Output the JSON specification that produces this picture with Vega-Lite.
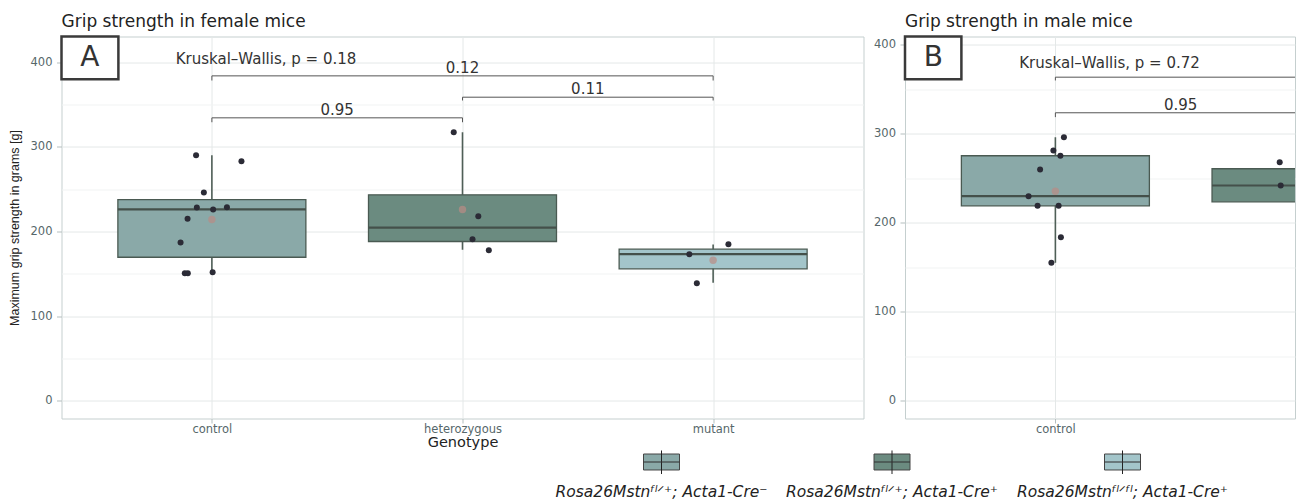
{
  "$schema": "https://vega.github.io/schema/vega-lite/v6.json",
  "padding": {"left": 7.5, "top": 12.5, "right": 0, "bottom": 0},
  "background": "white",
  "config": {
    "font": "DejaVu Sans",
    "view": {"stroke": "#c5cfcf", "strokeWidth": 1},
    "scale": {"continuousPadding": 0},
    "title": {"font": "DejaVu Sans", "fontSize": 17, "fontWeight": "normal", "color": "#222222", "anchor": "start", "frame": "group", "offset": 4},
    "axis": {"labelFont": "DejaVu Sans", "labelFontSize": 11.5, "labelColor": "#56676a", "titleFont": "DejaVu Sans", "titleFontWeight": "normal", "titleColor": "#222222", "tickColor": "#b5bfbf", "domain": false, "labelFlush": false, "labelOverlap": false, "gridColor": "#e4e8e8"}
  },
  "datasets": {
    "boxA": [
      {"genotype": "control", "pos": 1, "lo": 152.0, "q1": 169.6, "med": 226.2, "q3": 237.8, "hi": 290.1, "mean": 214.2},
      {"genotype": "heterozygous", "pos": 2, "lo": 178.4, "q1": 188.2, "med": 204.7, "q3": 243.4, "hi": 317.3, "mean": 226.0},
      {"genotype": "mutant", "pos": 3, "lo": 139.4, "q1": 155.9, "med": 173.2, "q3": 179.1, "hi": 184.8, "mean": 166.0}
    ],
    "boxB": [
      {"genotype": "control", "pos": 1, "lo": 155.1, "q1": 219.1, "med": 229.9, "q3": 275.3, "hi": 296.2, "mean": 235.5},
      {"genotype": "heterozygous", "pos": 2, "lo": 205.0, "q1": 223.6, "med": 241.9, "q3": 260.7, "hi": 268.1, "mean": null}
    ],
    "ptsA": [
      {"genotype": "control", "xpos": 0.937, "strength": 290.1},
      {"genotype": "control", "xpos": 1.118, "strength": 283.0},
      {"genotype": "control", "xpos": 0.968, "strength": 246.1},
      {"genotype": "control", "xpos": 0.940, "strength": 228.4},
      {"genotype": "control", "xpos": 1.005, "strength": 226.0},
      {"genotype": "control", "xpos": 1.060, "strength": 228.7},
      {"genotype": "control", "xpos": 0.903, "strength": 215.0},
      {"genotype": "control", "xpos": 0.875, "strength": 187.0},
      {"genotype": "control", "xpos": 0.892, "strength": 150.6},
      {"genotype": "control", "xpos": 0.904, "strength": 150.8},
      {"genotype": "control", "xpos": 1.003, "strength": 151.9},
      {"genotype": "heterozygous", "xpos": 1.965, "strength": 317.3},
      {"genotype": "heterozygous", "xpos": 2.063, "strength": 218.1},
      {"genotype": "heterozygous", "xpos": 2.040, "strength": 190.9},
      {"genotype": "heterozygous", "xpos": 2.105, "strength": 177.9},
      {"genotype": "mutant", "xpos": 3.061, "strength": 185.0},
      {"genotype": "mutant", "xpos": 2.905, "strength": 173.2},
      {"genotype": "mutant", "xpos": 2.935, "strength": 138.9}
    ],
    "ptsB": [
      {"genotype": "control", "xpos": 1.034, "strength": 296.2},
      {"genotype": "control", "xpos": 0.992, "strength": 281.2},
      {"genotype": "control", "xpos": 1.020, "strength": 275.3},
      {"genotype": "control", "xpos": 0.939, "strength": 259.9},
      {"genotype": "control", "xpos": 0.893, "strength": 229.9},
      {"genotype": "control", "xpos": 0.929, "strength": 219.1},
      {"genotype": "control", "xpos": 1.013, "strength": 219.1},
      {"genotype": "control", "xpos": 1.022, "strength": 183.8},
      {"genotype": "control", "xpos": 0.984, "strength": 155.1},
      {"genotype": "heterozygous", "xpos": 1.895, "strength": 268.1},
      {"genotype": "heterozygous", "xpos": 1.899, "strength": 241.9}
    ],
    "brA": [
      {"x1": 1, "x2": 3, "y": 383.9, "tip": 378.4, "xm": 2, "label": "0.12"},
      {"x1": 2, "x2": 3, "y": 358.7, "tip": 354.8, "xm": 2.5, "label": "0.11"},
      {"x1": 1, "x2": 2, "y": 334.3, "tip": 329.1, "xm": 1.5, "label": "0.95"}
    ],
    "brB": [
      {"x1": 1, "x2": 3, "y": 363.6, "tip": 359.9, "xm": 2, "label": ""},
      {"x1": 1, "x2": 2, "y": 323.6, "tip": 318.7, "xm": 1.5, "label": "0.95"}
    ],
    "tagA": [
      {"x": 0.4, "x2": 0.627, "y": 379.9, "y2": 430.4, "tx": 0.513, "ty": 405.2, "tag": "A", "kx": 1.216, "ky": 403.5, "kw": "Kruskal–Wallis, p = 0.18"}
    ],
    "tagB": [
      {"x": 0.4, "x2": 0.625, "y": 361.3, "y2": 409.3, "tx": 0.513, "ty": 385.4, "tag": "B", "kx": 1.216, "ky": 379.3, "kw": "Kruskal–Wallis, p = 0.72"}
    ],
    "legend": [
      {"genotype": "control", "label": "Rosa26Mstnᶠˡᐟ⁺; Acta1-Cre⁻"},
      {"genotype": "heterozygous", "label": "Rosa26Mstnᶠˡᐟ⁺; Acta1-Cre⁺"},
      {"genotype": "mutant", "label": "Rosa26Mstnᶠˡᐟᶠˡ; Acta1-Cre⁺"}
    ]
  },
  "spacing": 0,
  "vconcat": [
    {
      "spacing": 8.5,
      "hconcat": [
        {
          "width": 802,
          "height": 382,
          "title": {"text": "Grip strength in female mice"},
          "layer": [
            {
              "data": {"name": "boxA"},
              "mark": {"type": "rule", "color": "#4f5f57", "strokeWidth": 1.6, "clip": true},
              "encoding": {
                "x": {"field": "pos", "type": "quantitative", "title": "Genotype", "scale": {"domain": [0.4, 3.6], "nice": false, "zero": false, "padding": 0},
                  "axis": {"values": [1, 2, 3], "labelExpr": "datum.value == 1 ? 'control' : datum.value == 2 ? 'heterozygous' : datum.value == 3 ? 'mutant' : ''", "grid": true, "tickSize": 4.5, "labelPadding": 0.5, "titlePadding": 0, "titleFontSize": 14.5}},
                "y": {"field": "lo", "type": "quantitative", "title": "Maximum grip strength in grams [g]", "scale": {"domain": [-20.9, 430.4], "nice": false, "zero": false, "padding": 0},
                  "axis": {"values": [0, 50, 100, 150, 200, 250, 300, 350, 400], "labelExpr": "datum.value % 100 == 0 ? datum.label : ''", "grid": true,
                    "gridColor": {"condition": {"test": "datum.value % 100 != 0", "value": "#f1f3f3"}, "value": "#e4e8e8"},
                    "tickColor": {"condition": {"test": "datum.value % 100 != 0", "value": "transparent"}, "value": "#b5bfbf"},
                    "tickSize": 5, "labelPadding": 4.5, "titlePadding": 9, "titleFont": "Liberation Sans", "titleFontSize": 12.5}},
                "y2": {"field": "hi"}
              }
            },
            {
              "data": {"name": "boxA"},
              "mark": {"type": "bar", "size": 188, "stroke": "#4a5a52", "strokeWidth": 1.3, "clip": true},
              "encoding": {
                "x": {"field": "pos", "type": "quantitative", "title": "Genotype", "scale": {"domain": [0.4, 3.6], "nice": false, "zero": false, "padding": 0}},
                "y": {"field": "q1", "type": "quantitative", "title": "Maximum grip strength in grams [g]", "scale": {"domain": [-20.9, 430.4], "nice": false, "zero": false, "padding": 0}},
                "y2": {"field": "q3"},
                "fill": {"field": "genotype", "type": "nominal", "scale": {"domain": ["control", "heterozygous", "mutant"], "range": ["#8aa9a8", "#6b8b80", "#a3c5ca"]}, "legend": null}
              }
            },
            {
              "data": {"name": "boxA"},
              "mark": {"type": "tick", "orient": "horizontal", "size": 188, "thickness": 2.2, "color": "#44504a", "opacity": 1, "clip": true},
              "encoding": {
                "x": {"field": "pos", "type": "quantitative", "title": "Genotype", "scale": {"domain": [0.4, 3.6], "nice": false, "zero": false, "padding": 0}},
                "y": {"field": "med", "type": "quantitative", "title": "Maximum grip strength in grams [g]", "scale": {"domain": [-20.9, 430.4], "nice": false, "zero": false, "padding": 0}}
              }
            },
            {
              "data": {"name": "ptsA"},
              "mark": {"type": "circle", "size": 36, "color": "#2b2b36", "opacity": 1, "clip": true},
              "encoding": {
                "x": {"field": "xpos", "type": "quantitative", "title": "Genotype", "scale": {"domain": [0.4, 3.6], "nice": false, "zero": false, "padding": 0}},
                "y": {"field": "strength", "type": "quantitative", "title": "Maximum grip strength in grams [g]", "scale": {"domain": [-20.9, 430.4], "nice": false, "zero": false, "padding": 0}}
              }
            },
            {
              "data": {"name": "boxA"},
              "mark": {"type": "circle", "size": 55, "color": "#b98c84", "opacity": 0.7, "clip": true},
              "encoding": {
                "x": {"field": "pos", "type": "quantitative", "title": "Genotype", "scale": {"domain": [0.4, 3.6], "nice": false, "zero": false, "padding": 0}},
                "y": {"field": "mean", "type": "quantitative", "title": "Maximum grip strength in grams [g]", "scale": {"domain": [-20.9, 430.4], "nice": false, "zero": false, "padding": 0}}
              }
            },
            {
              "data": {"name": "brA"},
              "mark": {"type": "rule", "color": "#555555", "strokeWidth": 1, "clip": true},
              "encoding": {
                "x": {"field": "x1", "type": "quantitative", "title": "Genotype", "scale": {"domain": [0.4, 3.6], "nice": false, "zero": false, "padding": 0}},
                "x2": {"field": "x2"},
                "y": {"field": "y", "type": "quantitative", "title": "Maximum grip strength in grams [g]", "scale": {"domain": [-20.9, 430.4], "nice": false, "zero": false, "padding": 0}}
              }
            },
            {
              "data": {"name": "brA"},
              "mark": {"type": "rule", "color": "#555555", "strokeWidth": 1, "clip": true},
              "encoding": {
                "x": {"field": "x1", "type": "quantitative", "title": "Genotype", "scale": {"domain": [0.4, 3.6], "nice": false, "zero": false, "padding": 0}},
                "y": {"field": "y", "type": "quantitative", "title": "Maximum grip strength in grams [g]", "scale": {"domain": [-20.9, 430.4], "nice": false, "zero": false, "padding": 0}},
                "y2": {"field": "tip"}
              }
            },
            {
              "data": {"name": "brA"},
              "mark": {"type": "rule", "color": "#555555", "strokeWidth": 1, "clip": true},
              "encoding": {
                "x": {"field": "x2", "type": "quantitative", "title": "Genotype", "scale": {"domain": [0.4, 3.6], "nice": false, "zero": false, "padding": 0}},
                "y": {"field": "y", "type": "quantitative", "title": "Maximum grip strength in grams [g]", "scale": {"domain": [-20.9, 430.4], "nice": false, "zero": false, "padding": 0}},
                "y2": {"field": "tip"}
              }
            },
            {
              "data": {"name": "brA"},
              "mark": {"type": "text", "font": "DejaVu Sans", "fontSize": 15, "color": "#333333", "baseline": "middle", "align": "center", "dy": -8, "clip": true},
              "encoding": {
                "x": {"field": "xm", "type": "quantitative", "title": "Genotype", "scale": {"domain": [0.4, 3.6], "nice": false, "zero": false, "padding": 0}},
                "y": {"field": "y", "type": "quantitative", "title": "Maximum grip strength in grams [g]", "scale": {"domain": [-20.9, 430.4], "nice": false, "zero": false, "padding": 0}},
                "text": {"field": "label"}
              }
            },
            {
              "data": {"name": "tagA"},
              "mark": {"type": "text", "font": "DejaVu Sans", "fontSize": 15, "color": "#333333", "baseline": "middle", "align": "center"},
              "encoding": {
                "x": {"field": "kx", "type": "quantitative", "title": "Genotype", "scale": {"domain": [0.4, 3.6], "nice": false, "zero": false, "padding": 0}},
                "y": {"field": "ky", "type": "quantitative", "title": "Maximum grip strength in grams [g]", "scale": {"domain": [-20.9, 430.4], "nice": false, "zero": false, "padding": 0}},
                "text": {"field": "kw"}
              }
            },
            {
              "data": {"name": "tagA"},
              "mark": {"type": "rect", "fill": "white", "stroke": "#3a3a3a", "strokeWidth": 2.5},
              "encoding": {
                "x": {"field": "x", "type": "quantitative", "title": "Genotype", "scale": {"domain": [0.4, 3.6], "nice": false, "zero": false, "padding": 0}},
                "x2": {"field": "x2"},
                "y": {"field": "y", "type": "quantitative", "title": "Maximum grip strength in grams [g]", "scale": {"domain": [-20.9, 430.4], "nice": false, "zero": false, "padding": 0}},
                "y2": {"field": "y2"}
              }
            },
            {
              "data": {"name": "tagA"},
              "mark": {"type": "text", "font": "DejaVu Sans", "fontSize": 28, "color": "#333333", "baseline": "middle", "align": "center"},
              "encoding": {
                "x": {"field": "tx", "type": "quantitative", "title": "Genotype", "scale": {"domain": [0.4, 3.6], "nice": false, "zero": false, "padding": 0}},
                "y": {"field": "ty", "type": "quantitative", "title": "Maximum grip strength in grams [g]", "scale": {"domain": [-20.9, 430.4], "nice": false, "zero": false, "padding": 0}},
                "text": {"field": "tag"}
              }
            }
          ]
        },
        {
          "width": 390,
          "height": 382,
          "title": {"text": "Grip strength in male mice"},
          "layer": [
            {
              "data": {"name": "boxB"},
              "mark": {"type": "rule", "color": "#4f5f57", "strokeWidth": 1.6, "clip": true},
              "encoding": {
                "x": {"field": "pos", "type": "quantitative", "title": null, "scale": {"domain": [0.4, 1.956], "nice": false, "zero": false, "padding": 0},
                  "axis": {"values": [1], "labelExpr": "datum.value == 1 ? 'control' : ''", "grid": true, "tickSize": 4.5, "labelPadding": 0.5}},
                "y": {"field": "lo", "type": "quantitative", "title": null, "scale": {"domain": [-19.9, 409.3], "nice": false, "zero": false, "padding": 0},
                  "axis": {"values": [0, 50, 100, 150, 200, 250, 300, 350, 400], "labelExpr": "datum.value % 100 == 0 ? datum.label : ''", "grid": true,
                    "gridColor": {"condition": {"test": "datum.value % 100 != 0", "value": "#f1f3f3"}, "value": "#e4e8e8"},
                    "tickColor": {"condition": {"test": "datum.value % 100 != 0", "value": "transparent"}, "value": "#b5bfbf"},
                    "tickSize": 5, "labelPadding": 4.5}},
                "y2": {"field": "hi"}
              }
            },
            {
              "data": {"name": "boxB"},
              "mark": {"type": "bar", "size": 188, "stroke": "#4a5a52", "strokeWidth": 1.3, "clip": true},
              "encoding": {
                "x": {"field": "pos", "type": "quantitative", "title": null, "scale": {"domain": [0.4, 1.956], "nice": false, "zero": false, "padding": 0}},
                "y": {"field": "q1", "type": "quantitative", "title": null, "scale": {"domain": [-19.9, 409.3], "nice": false, "zero": false, "padding": 0}},
                "y2": {"field": "q3"},
                "fill": {"field": "genotype", "type": "nominal", "scale": {"domain": ["control", "heterozygous", "mutant"], "range": ["#8aa9a8", "#6b8b80", "#a3c5ca"]}, "legend": null}
              }
            },
            {
              "data": {"name": "boxB"},
              "mark": {"type": "tick", "orient": "horizontal", "size": 188, "thickness": 2.2, "color": "#44504a", "opacity": 1, "clip": true},
              "encoding": {
                "x": {"field": "pos", "type": "quantitative", "title": null, "scale": {"domain": [0.4, 1.956], "nice": false, "zero": false, "padding": 0}},
                "y": {"field": "med", "type": "quantitative", "title": null, "scale": {"domain": [-19.9, 409.3], "nice": false, "zero": false, "padding": 0}}
              }
            },
            {
              "data": {"name": "ptsB"},
              "mark": {"type": "circle", "size": 36, "color": "#2b2b36", "opacity": 1, "clip": true},
              "encoding": {
                "x": {"field": "xpos", "type": "quantitative", "title": null, "scale": {"domain": [0.4, 1.956], "nice": false, "zero": false, "padding": 0}},
                "y": {"field": "strength", "type": "quantitative", "title": null, "scale": {"domain": [-19.9, 409.3], "nice": false, "zero": false, "padding": 0}}
              }
            },
            {
              "data": {"name": "boxB"},
              "mark": {"type": "circle", "size": 55, "color": "#b98c84", "opacity": 0.7, "clip": true},
              "encoding": {
                "x": {"field": "pos", "type": "quantitative", "title": null, "scale": {"domain": [0.4, 1.956], "nice": false, "zero": false, "padding": 0}},
                "y": {"field": "mean", "type": "quantitative", "title": null, "scale": {"domain": [-19.9, 409.3], "nice": false, "zero": false, "padding": 0}}
              }
            },
            {
              "data": {"name": "brB"},
              "mark": {"type": "rule", "color": "#555555", "strokeWidth": 1, "clip": true},
              "encoding": {
                "x": {"field": "x1", "type": "quantitative", "title": null, "scale": {"domain": [0.4, 1.956], "nice": false, "zero": false, "padding": 0}},
                "x2": {"field": "x2"},
                "y": {"field": "y", "type": "quantitative", "title": null, "scale": {"domain": [-19.9, 409.3], "nice": false, "zero": false, "padding": 0}}
              }
            },
            {
              "data": {"name": "brB"},
              "mark": {"type": "rule", "color": "#555555", "strokeWidth": 1, "clip": true},
              "encoding": {
                "x": {"field": "x1", "type": "quantitative", "title": null, "scale": {"domain": [0.4, 1.956], "nice": false, "zero": false, "padding": 0}},
                "y": {"field": "y", "type": "quantitative", "title": null, "scale": {"domain": [-19.9, 409.3], "nice": false, "zero": false, "padding": 0}},
                "y2": {"field": "tip"}
              }
            },
            {
              "data": {"name": "brB"},
              "mark": {"type": "rule", "color": "#555555", "strokeWidth": 1, "clip": true},
              "encoding": {
                "x": {"field": "x2", "type": "quantitative", "title": null, "scale": {"domain": [0.4, 1.956], "nice": false, "zero": false, "padding": 0}},
                "y": {"field": "y", "type": "quantitative", "title": null, "scale": {"domain": [-19.9, 409.3], "nice": false, "zero": false, "padding": 0}},
                "y2": {"field": "tip"}
              }
            },
            {
              "data": {"name": "brB"},
              "mark": {"type": "text", "font": "DejaVu Sans", "fontSize": 15, "color": "#333333", "baseline": "middle", "align": "center", "dy": -8, "clip": true},
              "encoding": {
                "x": {"field": "xm", "type": "quantitative", "title": null, "scale": {"domain": [0.4, 1.956], "nice": false, "zero": false, "padding": 0}},
                "y": {"field": "y", "type": "quantitative", "title": null, "scale": {"domain": [-19.9, 409.3], "nice": false, "zero": false, "padding": 0}},
                "text": {"field": "label"}
              }
            },
            {
              "data": {"name": "tagB"},
              "mark": {"type": "text", "font": "DejaVu Sans", "fontSize": 15, "color": "#333333", "baseline": "middle", "align": "center"},
              "encoding": {
                "x": {"field": "kx", "type": "quantitative", "title": null, "scale": {"domain": [0.4, 1.956], "nice": false, "zero": false, "padding": 0}},
                "y": {"field": "ky", "type": "quantitative", "title": null, "scale": {"domain": [-19.9, 409.3], "nice": false, "zero": false, "padding": 0}},
                "text": {"field": "kw"}
              }
            },
            {
              "data": {"name": "tagB"},
              "mark": {"type": "rect", "fill": "white", "stroke": "#3a3a3a", "strokeWidth": 2.5},
              "encoding": {
                "x": {"field": "x", "type": "quantitative", "title": null, "scale": {"domain": [0.4, 1.956], "nice": false, "zero": false, "padding": 0}},
                "x2": {"field": "x2"},
                "y": {"field": "y", "type": "quantitative", "title": null, "scale": {"domain": [-19.9, 409.3], "nice": false, "zero": false, "padding": 0}},
                "y2": {"field": "y2"}
              }
            },
            {
              "data": {"name": "tagB"},
              "mark": {"type": "text", "font": "DejaVu Sans", "fontSize": 28, "color": "#333333", "baseline": "middle", "align": "center"},
              "encoding": {
                "x": {"field": "tx", "type": "quantitative", "title": null, "scale": {"domain": [0.4, 1.956], "nice": false, "zero": false, "padding": 0}},
                "y": {"field": "ty", "type": "quantitative", "title": null, "scale": {"domain": [-19.9, 409.3], "nice": false, "zero": false, "padding": 0}},
                "text": {"field": "tag"}
              }
            }
          ]
        }
      ]
    },
    {
      "width": 1180,
      "height": 48,
      "view": {"stroke": null},
      "data": {"name": "legend"},
      "layer": [
        {
          "mark": {"type": "bar", "size": 36, "stroke": "#444444", "strokeWidth": 1},
          "encoding": {
            "x": {"field": "genotype", "type": "nominal", "scale": {"type": "point", "domain": ["control", "heterozygous", "mutant"], "range": [600, 1061], "padding": 0}, "axis": null},
            "y": {"datum": 0.594, "type": "quantitative", "scale": {"domain": [0, 1], "nice": false, "zero": false}, "axis": null},
            "y2": {"datum": 0.927},
            "fill": {"field": "genotype", "type": "nominal", "scale": {"domain": ["control", "heterozygous", "mutant"], "range": ["#8aa9a8", "#6b8b80", "#a3c5ca"]}, "legend": null}
          }
        },
        {
          "mark": {"type": "rule", "color": "#222222", "strokeWidth": 1},
          "encoding": {
            "x": {"field": "genotype", "type": "nominal", "scale": {"type": "point", "domain": ["control", "heterozygous", "mutant"], "range": [600, 1061], "padding": 0}, "axis": null},
            "y": {"datum": 0.51, "type": "quantitative", "scale": {"domain": [0, 1], "nice": false, "zero": false}, "axis": null},
            "y2": {"datum": 1.0}
          }
        },
        {
          "mark": {"type": "tick", "orient": "horizontal", "size": 36, "thickness": 1.5, "color": "#333333"},
          "encoding": {
            "x": {"field": "genotype", "type": "nominal", "scale": {"type": "point", "domain": ["control", "heterozygous", "mutant"], "range": [600, 1061], "padding": 0}, "axis": null},
            "y": {"datum": 0.76, "type": "quantitative", "scale": {"domain": [0, 1], "nice": false, "zero": false}, "axis": null}
          }
        },
        {
          "mark": {"type": "text", "font": "DejaVu Sans", "fontStyle": "italic", "fontSize": 15.5, "color": "#222222", "baseline": "middle", "align": "center"},
          "encoding": {
            "x": {"field": "genotype", "type": "nominal", "scale": {"type": "point", "domain": ["control", "heterozygous", "mutant"], "range": [600, 1061], "padding": 0}, "axis": null},
            "y": {"datum": 0.13, "type": "quantitative", "scale": {"domain": [0, 1], "nice": false, "zero": false}, "axis": null},
            "text": {"field": "label"}
          }
        }
      ]
    }
  ]
}
